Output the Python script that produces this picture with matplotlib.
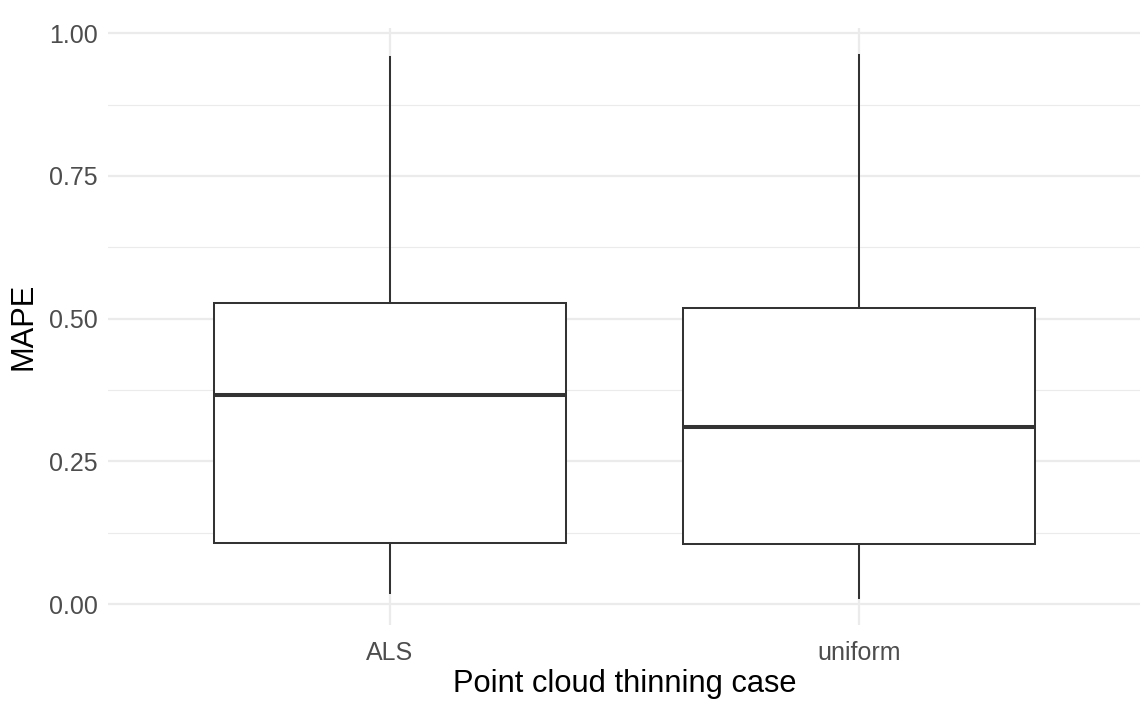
import matplotlib
matplotlib.use("Agg")
import matplotlib.pyplot as plt

categories = ["ALS", "uniform"]
whisker_low = [0.019, 0.0105]
q1 = [0.108, 0.106]
median = [0.3665, 0.311]
q3 = [0.527, 0.519]
whisker_high = [0.958, 0.962]

y_ticks = [0.00, 0.25, 0.50, 0.75, 1.00]
y_tick_labels = ["0.00", "0.25", "0.50", "0.75", "1.00"]
y_minor = [0.125, 0.375, 0.625, 0.875]

plt.rcParams['font.family'] = ['Liberation Sans', 'DejaVu Sans']

fig = plt.figure(figsize=(11.4, 7.05), dpi=100)
W, H = 1140, 705
left, right, top, bottom = 108, 1141, 27.7, 625.4
ax = fig.add_axes([left / W, (H - bottom) / H, (right - left) / W, (bottom - top) / H])

stats = []
for i, c in enumerate(categories):
    stats.append(dict(label=c, whislo=whisker_low[i], q1=q1[i], med=median[i],
                      q3=q3[i], whishi=whisker_high[i], fliers=[]))

positions = list(range(1, len(categories) + 1))
ax.bxp(stats, positions=positions, widths=0.75, showcaps=False, showfliers=False,
       patch_artist=True,
       boxprops=dict(facecolor="white", edgecolor="#333333", linewidth=1.45),
       whiskerprops=dict(color="#333333", linewidth=1.45),
       medianprops=dict(color="#333333", linewidth=2.9, solid_capstyle="butt"),
       zorder=3)

ax.set_xlim(0.4, len(categories) + 0.6)
ax.set_ylim(-0.037, 1.0096)

ax.set_yticks(y_ticks)
ax.set_yticklabels(y_tick_labels)
ax.set_yticks(y_minor, minor=True)
ax.set_xticks(positions)
ax.set_xticklabels(categories)

for s in ax.spines.values():
    s.set_visible(False)

ax.grid(True, which="major", color="#EBEBEB", linewidth=1.6, zorder=0)
ax.grid(True, which="minor", axis="y", color="#EBEBEB", linewidth=0.8, zorder=0)
ax.set_axisbelow(True)

ax.tick_params(axis="both", which="both", length=0)
ax.tick_params(axis="y", labelsize=18, labelcolor="#4D4D4D", pad=7.5)
ax.tick_params(axis="x", labelsize=18, labelcolor="#4D4D4D", pad=11)

ax.set_xlabel("Point cloud thinning case", fontsize=22.2, color="black", labelpad=3)
ax.set_ylabel("MAPE", fontsize=22.2, color="black", labelpad=7)

fig.savefig("out.png", dpi=100, facecolor="white")
